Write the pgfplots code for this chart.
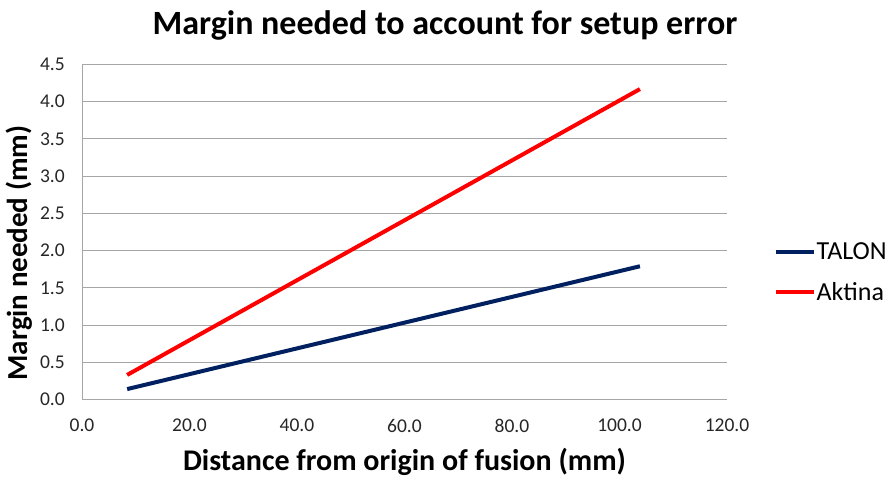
\documentclass[border=0pt]{standalone}
\usepackage{pgfplots}
\pgfplotsset{compat=1.18}
\usepackage{fontspec}
\setmainfont{Carlito}
\definecolor{navy}{RGB}{0,32,96}
\definecolor{gridgray}{RGB}{166,166,166}
\begin{document}
\begin{tikzpicture}[x=1pt,y=1pt]
\useasboundingbox (0,0) rectangle (888,-477);
\node[font=\fontsize{34}{38}\selectfont\bfseries, anchor=base] at (445,-34) {Margin needed to account for setup error};
\begin{axis}[
  at={(82pt,-399.5pt)}, anchor=south west,
  scale only axis, width=645pt, height=335pt,
  xmin=0, xmax=120, ymin=0, ymax=4.5,
  xtick={0,20,...,120}, ytick={0,0.5,...,4.5},
  ymajorgrids, grid style={gridgray, line width=1pt},
  axis x line*=bottom, axis y line*=left,
  x axis line style={draw=none},
  y axis line style={gridgray, line width=1pt, -},
  major tick length=0pt,
  tick label style={font=\fontsize{19.5}{22}\selectfont, text=black!85, inner sep=0pt},
  xticklabel style={anchor=center, yshift=-26pt},
  yticklabel style={anchor=east, xshift=-17pt},
  /pgf/number format/assume math mode=true,
  xticklabel={\pgfmathprintnumber[fixed,fixed zerofill,precision=1]{\tick}},
  yticklabel={\pgfmathprintnumber[fixed,fixed zerofill,precision=1]{\tick}},
  xlabel={Distance from origin of fusion (mm)},
  ylabel={Margin needed (mm)},
  xlabel style={font=\fontsize{30}{34}\selectfont\bfseries, at={(axis description cs:0.5,-0.187)}, anchor=center},
  ylabel style={font=\fontsize{29}{33}\selectfont\bfseries, at={(axis description cs:-0.098,0.437)}, anchor=center},
  legend style={at={(1.072,0.38)}, anchor=west, draw=none, fill=none,
    font=\fontsize{26}{30}\selectfont, row sep=17pt, inner sep=0pt},
  legend cell align=left,
  legend image code/.code={\draw[#1, line width=4pt] (0,0) -- (38pt,0);},
  clip=false,
]
\addplot[navy, line width=4pt] coordinates {(8.4,0.14) (103.8,1.79)};
\addlegendentry{\hspace{-1pt}TALON}
\addplot[red, line width=4pt] coordinates {(8.4,0.33) (103.8,4.17)};
\addlegendentry{\hspace{-1pt}Aktina}
\end{axis}
\end{tikzpicture}
\end{document}
